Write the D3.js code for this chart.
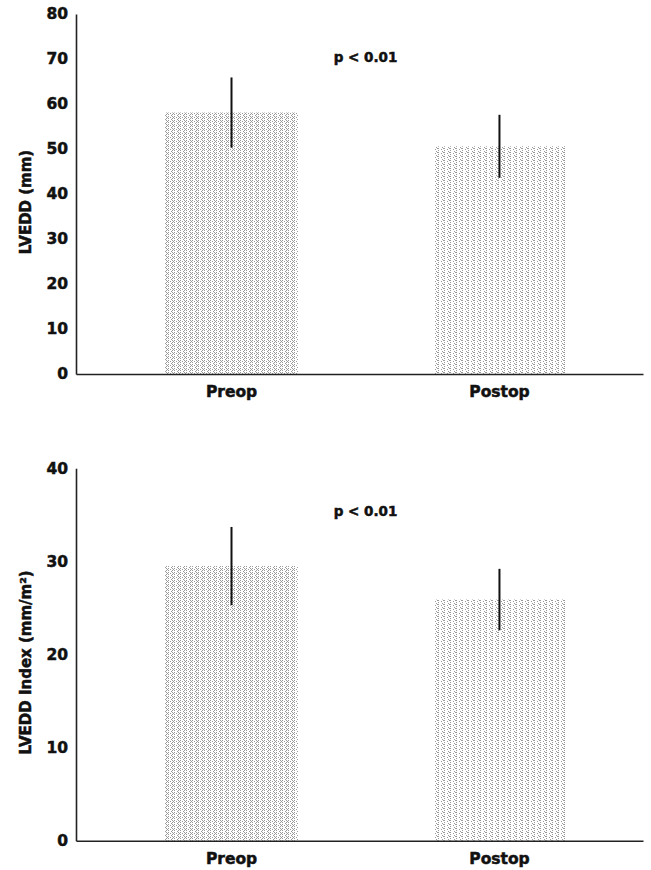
<!DOCTYPE html>
<html lang="en">
<head>
    <meta charset="UTF-8">
    <title>LVEDD Preop / Postop</title>
    <style>
        body {
            margin: 0;
            background: #fff;
        }
        svg {
            display: block;
        }
        text {
            font-family: "DejaVu Sans", sans-serif;
            font-weight: bold;
            fill: #111;
            stroke: #111;
            stroke-width: 0.5px;
        }
    </style>
</head>
<body>
<svg width="651" height="870"></svg>

<script src="https://d3js.org/d3.v7.min.js"></script>
<script>
    // data
    const groups = ["Preop", "Postop"];
    const lveddMean = [58.1, 50.6];
    const lveddSd = [7.8, 7.0];
    const indexMean = [29.5, 25.9];
    const indexSd = [4.2, 3.3];
    const lveddTicks = [0, 10, 20, 30, 40, 50, 60, 70, 80];
    const indexTicks = [0, 10, 20, 30, 40];
    const pLabel = "p < 0.01";

    const svg = d3.select("svg");
    const defs = svg.append("defs");

    // stippled fill like the scanned print
    function stipple(id, dots) {
        const p = defs.append("pattern")
            .attr("id", id)
            .attr("patternUnits", "userSpaceOnUse")
            .attr("width", 6)
            .attr("height", 4);
        p.append("rect").attr("width", 6).attr("height", 4).attr("fill", "#fff");
        p.selectAll("rect.dot")
            .data(dots)
            .join("rect")
            .attr("class", "dot")
            .attr("x", d => d[0])
            .attr("y", d => d[1])
            .attr("width", 1)
            .attr("height", 1)
            .attr("fill", "#999");
    }
    stipple("dotsDense", [[0, 0], [0, 2], [2, 1], [3, 3], [4, 0], [4, 2], [5, 1]]);
    stipple("dotsLight", [[0, 0], [0, 2], [3, 1], [4, 3], [5, 0]]);
    const fills = ["url(#dotsDense)", "url(#dotsLight)"];

    const x = d3.scaleBand()
        .domain(groups)
        .range([76, 643])
        .paddingInner(0.504)
        .paddingOuter(0.31)
        .align(0.536);

    function drawPanel(opt) {
        const y = d3.scaleLinear().domain([0, d3.max(opt.ticks)]).range([opt.bottom, opt.top]);
        const g = svg.append("g");

        g.selectAll("rect.bar")
            .data(groups)
            .join("rect")
            .attr("class", "bar")
            .attr("x", d => x(d))
            .attr("width", x.bandwidth())
            .attr("y", (d, i) => y(opt.mean[i]))
            .attr("height", (d, i) => y(0) - y(opt.mean[i]))
            .attr("fill", (d, i) => fills[i]);

        g.selectAll("line.err")
            .data(groups)
            .join("line")
            .attr("class", "err")
            .attr("x1", d => x(d) + x.bandwidth() / 2)
            .attr("x2", d => x(d) + x.bandwidth() / 2)
            .attr("y1", (d, i) => y(opt.mean[i] - opt.sd[i]))
            .attr("y2", (d, i) => y(opt.mean[i] + opt.sd[i]))
            .attr("stroke", "#111")
            .attr("stroke-width", 2);

        const yAxis = g.append("g")
            .attr("transform", "translate(76,0)")
            .call(d3.axisLeft(y).tickValues(opt.ticks).tickSize(0).tickPadding(8).tickFormat(d3.format("d")));
        yAxis.select(".domain").attr("stroke", "#222").attr("stroke-width", 1.6);
        yAxis.selectAll("text").attr("font-size", 15.5).attr("font-family", "DejaVu Sans").attr("font-weight", "bold").attr("fill", "#111");

        const xAxis = g.append("g")
            .attr("transform", `translate(0,${opt.bottom})`)
            .call(d3.axisBottom(x).tickSize(0).tickPadding(12));
        xAxis.select(".domain").attr("stroke", "#222").attr("stroke-width", 1.6);
        xAxis.selectAll("text").attr("font-size", 15.5).attr("font-family", "DejaVu Sans").attr("font-weight", "bold").attr("fill", "#111");

        g.append("text")
            .attr("transform", `translate(31,${(opt.top + opt.bottom) / 2 + opt.labelShift}) rotate(-90)`)
            .attr("text-anchor", "middle")
            .attr("font-size", 15)
            .text(opt.label);

        const mid = (x(groups[0]) + x(groups[1]) + x.bandwidth()) / 2;
        g.append("text")
            .attr("x", mid)
            .attr("y", opt.top + 48)
            .attr("text-anchor", "middle")
            .attr("font-size", 13.5)
            .text(pLabel);
    }

    drawPanel({ mean: lveddMean, sd: lveddSd, ticks: lveddTicks, top: 14, bottom: 374, label: "LVEDD (mm)", labelShift: 8 });
    drawPanel({ mean: indexMean, sd: indexSd, ticks: indexTicks, top: 468.3, bottom: 840.7, label: "LVEDD Index (mm/m²)", labelShift: 8 });
</script>
</body>
</html>
